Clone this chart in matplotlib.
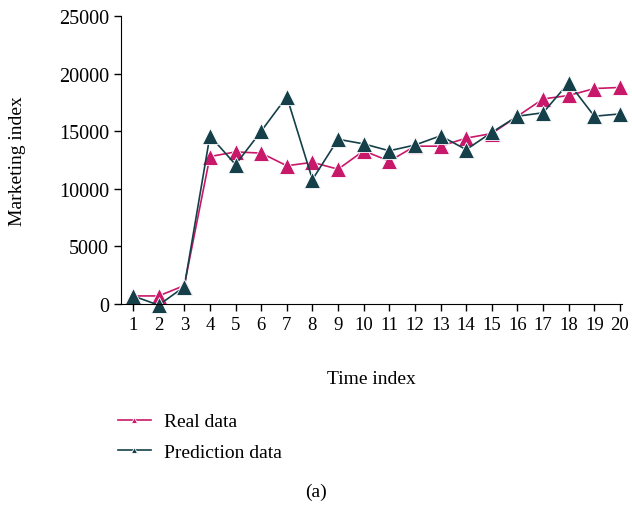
import matplotlib.pyplot as plt

plt.rcParams['font.family'] = ['Liberation Serif', 'DejaVu Serif']

time_index = list(range(1, 21))
real_data = [700, 700, 1600, 12800, 13200, 13100, 12000, 12300, 11700, 13300,
             12400, 13700, 13700, 14400, 14800, 16300, 17800, 18100, 18700, 18800]
prediction_data = [700, -100, 1500, 14600, 12100, 15000, 18000, 10800, 14300, 13900,
                   13300, 13800, 14600, 13400, 14900, 16300, 16600, 19200, 16300, 16500]

real_color = '#C8186A'
pred_color = '#15404A'

fig = plt.figure(figsize=(6.32, 5.06), dpi=100)
ax = fig.add_axes([121 / 632, 1 - 305 / 506, 501 / 632, 288 / 506])

ax.plot(time_index, real_data, color=real_color, lw=1.2, marker='^', ms=11,
        mec='white', mew=0.6, label='Real data', clip_on=False)
ax.plot(time_index, prediction_data, color=pred_color, lw=1.2, marker='^', ms=11,
        mec='white', mew=0.6, label='Prediction data', clip_on=False)

ax.set_xlim(0.53, 20.08)
ax.set_ylim(0, 25000)
ax.set_xticks(time_index)
ax.set_yticks(range(0, 25001, 5000))
ax.spines['top'].set_visible(False)
ax.spines['right'].set_visible(False)
ax.tick_params(axis='y', labelsize=14.5, length=5, width=1)
ax.tick_params(axis='x', labelsize=13.5, length=5, width=1)
ax.set_ylabel('Marketing index', fontsize=14)
ax.yaxis.set_label_coords(-0.19, 0.5)
ax.set_xlabel('Time index', fontsize=14)
ax.xaxis.set_label_coords(0.5, -0.229)

leg = fig.legend(*ax.get_legend_handles_labels(), loc='center left',
                 bbox_to_anchor=(100 / 632, 1 - 438 / 506), frameon=False,
                 fontsize=14, markerscale=0.45, handlelength=1.7,
                 handletextpad=0.7, labelspacing=0.68)

fig.text(316 / 632, 1 - 492 / 506, '(a)', ha='center', va='center', fontsize=14)

fig.savefig('out.png', dpi=100)
